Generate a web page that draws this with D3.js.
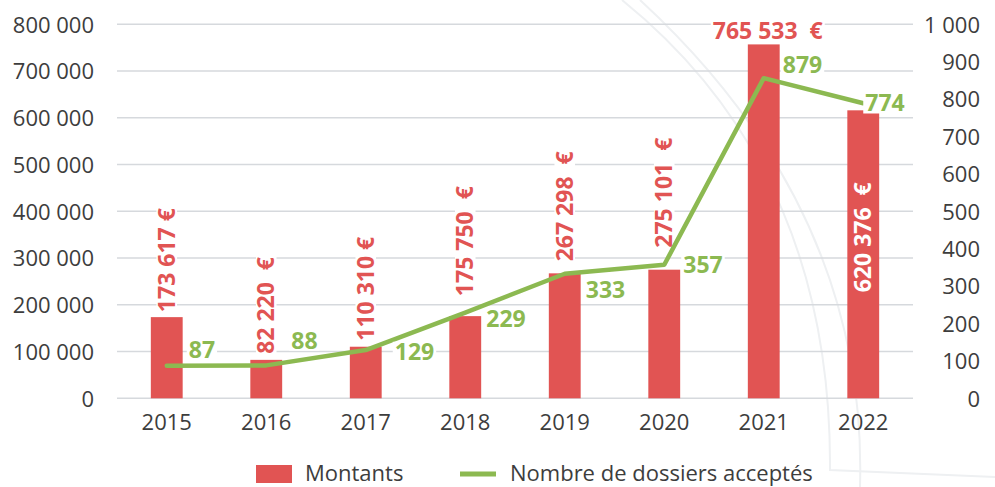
<!DOCTYPE html>
<html>
<head>
<meta charset="utf-8">
<script src="https://cdn.jsdelivr.net/npm/d3@7"></script>
<style>
  body { margin: 0; background: #fff; }
  svg { display: block; font-family: "Open Sans", sans-serif; }
</style>
</head>
<body>
<div id="chart"></div>
<script>
// data
const years = ['2015', '2016', '2017', '2018', '2019', '2020', '2021', '2022'];
// plotted heights (the drawn bars/points sit slightly off the printed labels for 2021/2022)
const montants = [173617, 82220, 110310, 175750, 267298, 275101, 757000, 616000];
const montantLabels = ['173 617 €', '82 220  €', '110 310 €', '175 750  €', '267 298  €', '275 101  €', '765 533  €', '620 376  €'];
const dossiers = [87, 88, 129, 229, 333, 357, 856, 789];
const dossierLabels = ['87', '88', '129', '229', '333', '357', '879', '774'];
const leftTicks = [0, 100000, 200000, 300000, 400000, 500000, 600000, 700000, 800000];
const rightTicks = [0, 100, 200, 300, 400, 500, 600, 700, 800, 900, 1000];
const legendItems = ['Montants', 'Nombre de dossiers acceptés'];

// label placement (layout only)
const barLabelMode = ['up', 'up', 'up', 'up', 'up', 'up', 'top', 'in'];
const barLabelGap = [5, 6, 6, 20, 12, 22, 5.5, 106];
const lineLabelOffset = [[22, -16], [25, -25], [29, 2], [21, 6], [21, 16], [19, 0], [19, -13], [2, 0]];

const W = 995, H = 487;
const RED = '#e15453', GREEN = '#8cb951', TXT = '#3d3d3d', GRID = '#d6d9dd';

const fr = d3.formatLocale({ decimal: ',', thousands: '\u00a0', grouping: [3], currency: ['', ' €'] });
const fmt = fr.format(',');

const svg = d3.select('#chart').append('svg')
  .attr('width', W)
  .attr('height', H);

// faint decorative arcs in the background
const deco = svg.append('g').attr('fill', 'none').attr('stroke', '#eef0f2').attr('stroke-width', 2);
deco.append('path').attr('d', 'M622,0 Q832,170 830,470 L995,477');
deco.append('path').attr('d', 'M640,0 Q868,210 860,487');

const x = d3.scaleBand().domain(years).range([117, 913]).padding(0);
const yL = d3.scaleLinear().domain([0, 800000]).range([398.3, 24.3]);
const yR = d3.scaleLinear().domain([0, 1000]).range([398.3, 24.3]);
const barW = x.bandwidth() * 0.32;
const cx = d => x(d) + x.bandwidth() / 2;

// gridlines
svg.append('g').selectAll('line')
  .data(leftTicks)
  .enter().append('line')
  .attr('x1', 117).attr('x2', 913)
  .attr('y1', d => yL(d)).attr('y2', d => yL(d))
  .attr('stroke', GRID).attr('stroke-width', 1.5);

// left axis
const axL = svg.append('g')
  .attr('transform', 'translate(117,0)')
  .call(d3.axisLeft(yL).tickValues(leftTicks).tickFormat(fmt).tickSize(0).tickPadding(23));
axL.select('.domain').remove();
axL.selectAll('text').attr('dy', '0.357em').style('font-size', '22px').style('fill', TXT)
  .style('font-family', '"Open Sans", sans-serif');

// right axis
const axR = svg.append('g')
  .attr('transform', 'translate(913,0)')
  .call(d3.axisRight(yR).tickValues(rightTicks).tickFormat(fmt).tickSize(0));
axR.select('.domain').remove();
axR.selectAll('text').attr('x', 67).attr('dy', '0.357em').attr('text-anchor', 'end')
  .style('font-size', '22px').style('fill', TXT).style('font-family', '"Open Sans", sans-serif');

// bottom axis
const axB = svg.append('g')
  .attr('transform', 'translate(0,398.3)')
  .call(d3.axisBottom(x).tickSize(0));
axB.select('.domain').remove();
axB.selectAll('text').attr('y', 32).attr('dy', 0)
  .style('font-size', '22px').style('fill', TXT).style('font-family', '"Open Sans", sans-serif');

// bars
svg.append('g').selectAll('rect')
  .data(years)
  .enter().append('rect')
  .attr('x', d => cx(d) - barW / 2)
  .attr('width', barW)
  .attr('y', (d, i) => yL(montants[i]))
  .attr('height', (d, i) => yL(0) - yL(montants[i]))
  .attr('fill', RED);

// puts a tight white box behind a label so the gridlines break around it
function addLabel(parent, transform, text, color, fs, anchor, withBg) {
  const g = parent.append('g').attr('transform', transform);
  const bg = g.append('rect').attr('fill', '#fff');
  const t = g.append('text')
    .attr('dy', '0.357em')
    .attr('text-anchor', anchor)
    .style('font-size', fs + 'px')
    .style('font-weight', 700)
    .style('fill', color)
    .style('white-space', 'pre')
    .text(text);
  const len = t.node().getComputedTextLength();
  const x0 = anchor === 'middle' ? -len / 2 : (anchor === 'end' ? -len : 0);
  if (withBg) {
    bg.attr('x', x0 - 2).attr('width', len + 4)
      .attr('y', -0.36 * fs - 2).attr('height', 0.72 * fs + 4);
  } else {
    bg.remove();
  }
}

// bar value labels
const barLabels = svg.append('g');
years.forEach((yr, i) => {
  const top = yL(montants[i]);
  const mode = barLabelMode[i];
  if (mode === 'up') {
    addLabel(barLabels, `translate(${cx(yr)},${top - barLabelGap[i]}) rotate(-90)`, montantLabels[i], RED, 23, 'start', true);
  } else if (mode === 'top') {
    addLabel(barLabels, `translate(${cx(yr) + 4},${top - barLabelGap[i] - 0.36 * 23})`, montantLabels[i], RED, 23, 'middle', true);
  } else {
    addLabel(barLabels, `translate(${cx(yr)},${yL(0) - barLabelGap[i]}) rotate(-90)`, montantLabels[i], '#fff', 23, 'start', false);
  }
});

// line
const line = d3.line()
  .x(d => cx(d))
  .y((d, i) => yR(dossiers[i]));

svg.append('path')
  .datum(years)
  .attr('fill', 'none')
  .attr('stroke', GREEN)
  .attr('stroke-width', 4.5)
  .attr('stroke-linejoin', 'round')
  .attr('stroke-linecap', 'round')
  .attr('d', line);

// line labels
const lineLabels = svg.append('g');
years.forEach((yr, i) => {
  const px = cx(yr) + lineLabelOffset[i][0];
  const py = yR(dossiers[i]) + lineLabelOffset[i][1];
  addLabel(lineLabels, `translate(${px},${py})`, dossierLabels[i], GREEN, 23, 'start', true);
});

// legend
const legend = svg.append('g');
legend.append('rect')
  .attr('x', 256).attr('y', 465).attr('width', 36).attr('height', 18)
  .attr('fill', RED);
legend.append('text')
  .attr('x', 305).attr('y', 481)
  .style('font-size', '22px').style('fill', TXT)
  .text(legendItems[0]);
legend.append('line')
  .attr('x1', 460).attr('x2', 496).attr('y1', 474).attr('y2', 474)
  .attr('stroke', GREEN).attr('stroke-width', 5);
legend.append('text')
  .attr('x', 510).attr('y', 481)
  .style('font-size', '22px').style('fill', TXT)
  .text(legendItems[1]);
</script>
</body>
</html>
